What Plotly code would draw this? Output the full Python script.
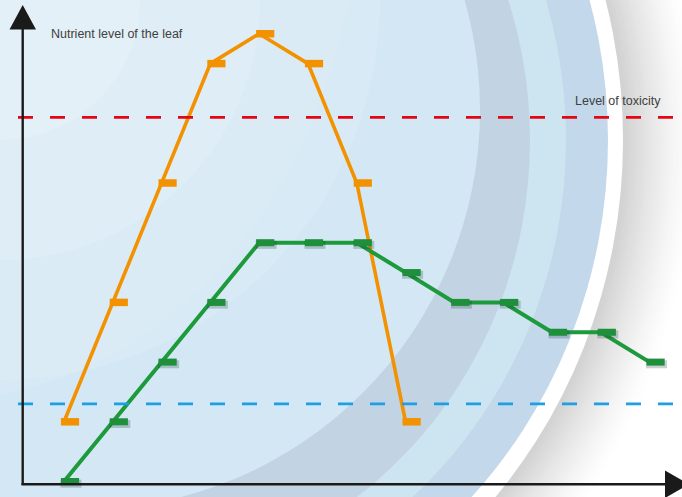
import plotly.graph_objects as go

W, H = 682, 497

# ---------------- data ----------------
green_x = [1, 2, 3, 4, 5, 6, 7, 8, 9, 10, 11, 12, 13]
green_y = [0, 2, 4, 6, 8, 8, 8, 7, 6, 6, 5, 5, 4]
orange_x = [1, 2, 3, 4, 5, 6, 7, 8]
orange_y = [2, 6, 10, 14, 15, 14, 10, 2]
toxicity_level = 12.2
deficiency_level = 2.6
y_title = "Nutrient level of the leaf"
toxicity_label = "Level of toxicity"

# ---------------- scale (pixels per unit) ----------------
PX_X = 48.8
PX_Y = 29.85
X0 = 1 - 64 / PX_X
Y0 = -15.5 / PX_Y


def px(x):
    return x / W


def py(y):
    return 1 - y / H


def ell(cx, cy, rx, ry, color, opacity=1.0):
    return dict(type="circle", xref="paper", yref="paper", layer="below",
                x0=px(cx - rx), x1=px(cx + rx), y0=py(cy + ry), y1=py(cy - ry),
                fillcolor=color, opacity=opacity, line=dict(width=0))


def mix(c1, c2, t):
    a = [int(c1[i:i + 2], 16) for i in (1, 3, 5)]
    b = [int(c2[i:i + 2], 16) for i in (1, 3, 5)]
    return "rgb(%d,%d,%d)" % tuple(round(a[k] + (b[k] - a[k]) * t) for k in range(3))


shapes = []
# grey gradient right of the arc
CX, CY = 108, 140
N = 24
for k in range(N):
    rx = 590 - k * (74 / N)
    t = k / (N - 1)
    shapes.append(ell(CX, CY, rx, rx * 1.05, mix("#ffffff", "#d3d3d3", t ** 1.3)))
# white band
shapes.append(ell(CX, CY, 515, 542, "#ffffff"))
# outer blue band
shapes.append(ell(CX, CY, 500, 520, "#c3d8ea"))
# light band
shapes.append(ell(CX, CY, 458, 478, "#cde4f1"))
# greyish lens
shapes.append(ell(CX, CY, 422, 442, "#c2d3e4"))
# left light region
shapes.append(ell(80, 110, 400, 400, "#d3e8f4"))
# glow towards upper-left
shapes.append(ell(0, 0, 380, 380, "#ffffff", 0.12))
shapes.append(ell(0, 0, 260, 260, "#ffffff", 0.15))
shapes.append(ell(0, 0, 140, 140, "#ffffff", 0.15))
# faint lighter arc lower left
shapes.append(ell(-60, -120, 420, 520, "#ffffff", 0.08))

# dashed reference levels
shapes.append(dict(type="line", xref="paper", yref="y", x0=px(18), x1=1.0,
                   y0=toxicity_level, y1=toxicity_level,
                   line=dict(color="#e30613", width=2.6, dash="15px,17px")))
shapes.append(dict(type="line", xref="paper", yref="y", x0=px(18), x1=1.0,
                   y0=deficiency_level, y1=deficiency_level,
                   line=dict(color="#1c9fe3", width=2.6, dash="15px,17px")))

# axes with arrowheads
AX = "#1a1a1a"
shapes.append(dict(type="line", xref="paper", yref="paper", x0=px(22.7), x1=px(22.7),
                   y0=py(485), y1=py(26), line=dict(color=AX, width=2.4)))
shapes.append(dict(type="line", xref="paper", yref="paper", x0=px(21.5), x1=px(668),
                   y0=py(484.3), y1=py(484.3), line=dict(color=AX, width=2.4)))
shapes.append(dict(type="path", xref="paper", yref="paper",
                   path="M %f %f L %f %f L %f %f Z" % (px(22.7), py(5), px(9.5), py(29.5), px(36), py(29.5)),
                   fillcolor=AX, line=dict(width=0)))
shapes.append(dict(type="path", xref="paper", yref="paper",
                   path="M %f %f L %f %f L %f %f Z" % (px(665), py(470.5), px(689), py(484.3), px(665), py(498)),
                   fillcolor=AX, line=dict(width=0)))

fig = go.Figure()

DX = 6 / PX_X
SH = 2.2 / PX_Y

# orange series
fig.add_trace(go.Scatter(x=orange_x, y=orange_y, mode="lines",
                         line=dict(color="#f39200", width=3.6), hoverinfo="skip"))
fig.add_trace(go.Scatter(x=[v + DX for v in orange_x], y=orange_y, mode="markers",
                         marker=dict(symbol="line-ew", size=13,
                                     line=dict(color="#f39200", width=7.5)), hoverinfo="skip"))

# green series
fig.add_trace(go.Scatter(x=green_x, y=green_y, mode="lines",
                         line=dict(color="#1d9a3b", width=4), hoverinfo="skip"))
fig.add_trace(go.Scatter(x=[v + DX + 0.02 for v in green_x], y=[v - SH for v in green_y], mode="markers",
                         marker=dict(symbol="line-ew", size=15,
                                     line=dict(color="rgba(20,40,40,0.22)", width=8)), hoverinfo="skip"))
fig.add_trace(go.Scatter(x=[v + DX for v in green_x], y=green_y, mode="markers",
                         marker=dict(symbol="line-ew", size=13,
                                     line=dict(color="#1e8f3a", width=7)), hoverinfo="skip"))

annotations = [
    dict(text=y_title, xref="paper", yref="paper", x=px(49), y=py(34.5),
         xanchor="left", yanchor="middle", showarrow=False,
         font=dict(family="Liberation Sans, Arial, sans-serif", size=12.5, color="#404040")),
    dict(text=toxicity_label, xref="paper", yref="paper", x=px(573), y=py(101),
         xanchor="left", yanchor="middle", showarrow=False,
         font=dict(family="Liberation Sans, Arial, sans-serif", size=12.5, color="#404040")),
]

fig.update_layout(
    width=W, height=H, margin=dict(l=0, r=0, t=0, b=0),
    paper_bgcolor="#ffffff", plot_bgcolor="rgba(0,0,0,0)",
    showlegend=False, shapes=shapes, annotations=annotations,
    xaxis=dict(range=[X0, X0 + W / PX_X], visible=False, fixedrange=True),
    yaxis=dict(range=[Y0, Y0 + H / PX_Y], visible=False, fixedrange=True),
)

fig.write_html("out.html", config={"displayModeBar": False},
               post_script="document.body.style.margin='0';document.body.style.overflow='hidden';")
